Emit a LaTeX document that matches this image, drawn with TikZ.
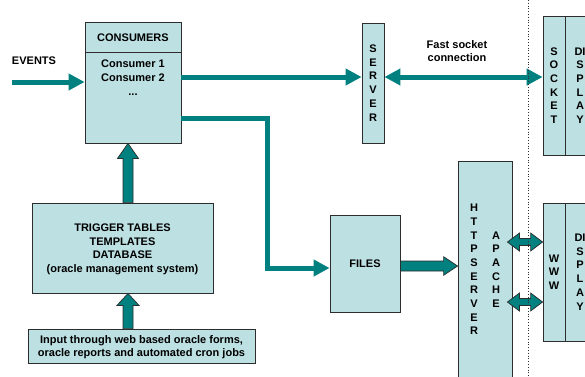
\documentclass[tikz,border=0pt]{standalone}
\usepackage{fontspec}
\setmainfont{Liberation Sans}
\usetikzlibrary{arrows.meta,calc}

\definecolor{boxfill}{RGB}{189,224,227}
\definecolor{boxline}{RGB}{45,45,45}
\definecolor{flow}{RGB}{0,128,126}

\tikzset{
  box/.style={rectangle, draw=boxline, line width=0.8pt, fill=boxfill,
    inner sep=0pt, align=center, text depth=0pt,
    font=\bfseries\fontsize{11}{13.7}\selectfont},
  txt/.style={inner sep=0pt, align=center, text depth=0pt,
    font=\bfseries\fontsize{11}{13}\selectfont},
  vtxt/.style={inner sep=0pt, align=center, text depth=0pt,
    font=\bfseries\fontsize{11}{13.7}\selectfont},
  flowline/.style={draw=flow, line width=5pt, -{Triangle[length=16pt,width=16pt]}},
  flowboth/.style={draw=flow, line width=5pt,
    {Triangle[length=16pt,width=16pt]}-{Triangle[length=16pt,width=16pt]}},
  % block arrows, drawn as outlined polygons
  upblock/.style 2 args={draw=boxline, line width=0.7pt, fill=flow, to path={
    let \p1=(\tikztostart), \p2=(\tikztotarget) in
    (\x1-5pt,\y1) -- (\x1-5pt,\y2-#1) -- (\x1-#2,\y2-#1) -- (\x1,\y2)
    -- (\x1+#2,\y2-#1) -- (\x1+5pt,\y2-#1) -- (\x1+5pt,\y1) -- cycle}},
  rblock/.style={draw=boxline, line width=0.7pt, fill=flow, to path={
    let \p1=(\tikztostart), \p2=(\tikztotarget) in
    (\x1,\y1+5pt) -- (\x2-14pt,\y1+5pt) -- (\x2-14pt,\y1+9.3pt) -- (\x2,\y1)
    -- (\x2-14pt,\y1-9.3pt) -- (\x2-14pt,\y1-5pt) -- (\x1,\y1-5pt) -- cycle}},
  dblock/.style={draw=boxline, line width=0.7pt, fill=flow, to path={
    let \p1=(\tikztostart), \p2=(\tikztotarget) in
    (\x1,\y1) -- (\x1+12pt,\y1+9pt) -- (\x1+12pt,\y1+3.5pt) -- (\x2-12pt,\y1+3.5pt)
    -- (\x2-12pt,\y1+9pt) -- (\x2,\y1) -- (\x2-12pt,\y1-9pt) -- (\x2-12pt,\y1-3.5pt)
    -- (\x1+12pt,\y1-3.5pt) -- (\x1+12pt,\y1-9pt) -- cycle}},
}

\begin{document}
\begin{tikzpicture}[x=1pt,y=-1pt]
  \useasboundingbox (0,0) rectangle (585,376);
  \fill[white] (0,0) rectangle (585,376);
  \clip (0,0) rectangle (585,376);

  % consumers
  \node[box, minimum width=96pt, minimum height=121pt] (cons) at (133,82.5) {};
  \node[txt] (conshead) at (133,37.5) {CONSUMERS};
  \coordinate (hd) at (0,52);
  \draw[draw=boxline, line width=0.8pt] (cons.west |- hd) -- (cons.east |- hd);
  \node[vtxt, font=\bfseries\fontsize{11}{14.3}\selectfont] (conslist) at (133,77.5)
    {Consumer 1\\Consumer 2\\...};

  \node[txt] (events) at (34,61) {EVENTS};

  \node[box, minimum width=22pt, minimum height=120pt] (serv) at (373,83)
    {S\\E\\R\\V\\E\\R};

  \node[txt] (fast) at (457,51.5) {Fast socket\\connection};

  % socket display
  \node[box, minimum width=30pt, minimum height=139pt] (disp1) at (580,85.5)
    {DI\\S\\P\\L\\A\\Y};
  \node[box, minimum width=22pt, minimum height=139pt] (sock) at (554,85.5)
    {S\\O\\C\\K\\E\\T};

  % database side
  \node[box, minimum width=181pt, minimum height=90pt] (trig) at (122.5,248)
    {TRIGGER TABLES\\TEMPLATES\\DATABASE\\(oracle management system)};
  \node[box, minimum width=227pt, minimum height=34pt] (input) at (141.5,346)
    {Input through web based oracle forms,\\oracle reports and automated cron jobs};

  \node[box, minimum width=70pt, minimum height=97pt] (files) at (365,263.5) {FILES};

  % web side
  \node[box, minimum width=54pt, minimum height=240pt, anchor=north] (http) at (485,161) {};
  \node[vtxt] (httptxt) at (474,269.5) {H\\T\\T\\P\\S\\E\\R\\V\\E\\R};
  \node[vtxt] (apache) at (496,269.5) {A\\P\\A\\C\\H\\E};

  \node[box, minimum width=30pt, minimum height=138pt] (disp2) at (580,272)
    {DI\\S\\P\\L\\A\\Y};
  \node[box, minimum width=22pt, minimum height=138pt] (www) at (554,272)
    {W\\W\\W};

  % connectors
  \coordinate (ev) at (12,82);
  \draw[flowline] (ev) -- (ev -| cons.west);

  \coordinate (sk) at (0,77);
  \draw[flowline] (cons.east |- sk) -- (serv.west |- sk);
  \draw[flowboth] (serv.east |- sk) -- (sock.west |- sk);

  \coordinate (bend) at (267,118);
  \draw[flowline] (cons.east |- bend) -- (bend) |- ($(files.west)+(0,4.5)$);

  \coordinate (ux) at (128,0);
  \draw[upblock={15pt}{10.5pt}] (ux |- trig.north) to (ux |- cons.south);
  \draw[upblock={12pt}{11pt}] (ux |- input.north) to (ux |- trig.south);

  \coordinate (fh) at (0,266);
  \draw[rblock] (files.east |- fh) to (http.west |- fh);

  \coordinate (ap1) at (0,242);
  \coordinate (ap2) at (0,302);
  \draw[dblock] ($(http.east |- ap1)+(-5,0)$) to (www.west |- ap1);
  \draw[dblock] ($(http.east |- ap2)+(-5,0)$) to (www.west |- ap2);

  % border between server and clients
  \draw[boxline, line width=0.8pt, dotted] (528,0) -- (528,376);
\end{tikzpicture}
\end{document}
